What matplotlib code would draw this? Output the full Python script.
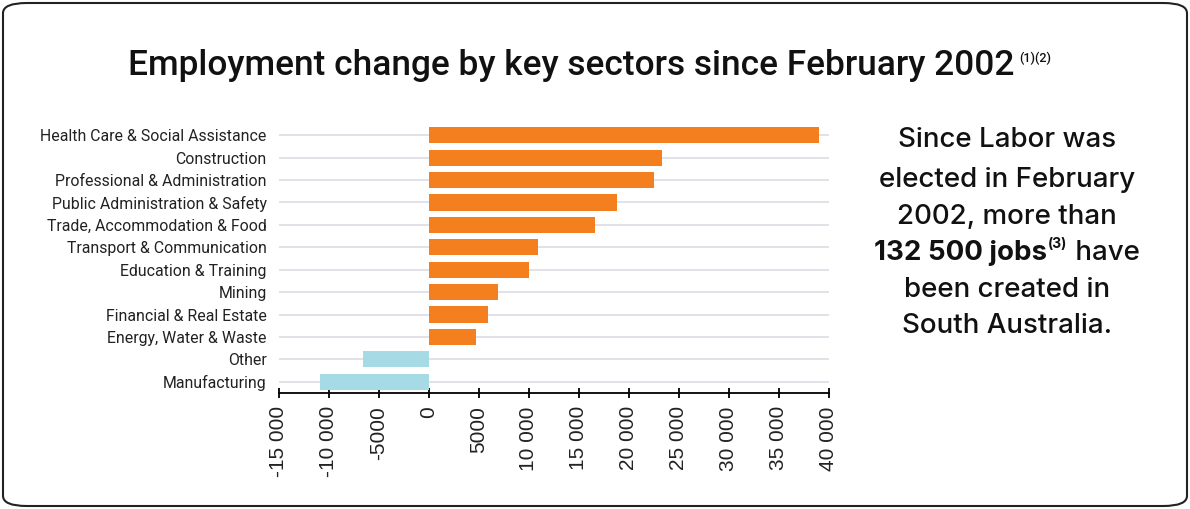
import matplotlib
matplotlib.use("Agg")
import matplotlib.pyplot as plt
from matplotlib.patches import FancyBboxPatch

# sectors, top to bottom
sectors = [
    "Health Care & Social Assistance",
    "Construction",
    "Professional & Administration",
    "Public Administration & Safety",
    "Trade, Accommodation & Food",
    "Transport & Communication",
    "Education & Training",
    "Mining",
    "Financial & Real Estate",
    "Energy, Water & Waste",
    "Other",
    "Manufacturing",
]
change = [39000, 23300, 22500, 18800, 16600, 10900, 10000, 6900, 5900, 4700, -6600, -10900]
xticks = [-15000, -10000, -5000, 0, 5000, 10000, 15000, 20000, 25000, 30000, 35000, 40000]
xticklabels = ["-15 000", "-10 000", "-5000", "0", "5000", "10 000", "15 000",
               "20 000", "25 000", "30 000", "35 000", "40 000"]

plt.rcParams["font.family"] = ["Liberation Sans", "DejaVu Sans"]
ink = "#111111"

W, H = 1190, 509
fig = plt.figure(figsize=(W / 100, H / 100), dpi=100)
fig.canvas.draw()
r = fig.canvas.get_renderer()

def fit_size(txt, target, base, **kw):
    # font size that makes txt about target px wide
    t = fig.text(0, 0, txt, fontsize=base, **kw)
    w = t.get_window_extent(r).width
    t.remove()
    return base * target / w

# rounded frame around everything
frame = FancyBboxPatch((3 / W, 3 / H), 1 - 6 / W, 1 - 6 / H,
                       boxstyle="round,pad=0,rounding_size=0.02",
                       transform=fig.transFigure, fill=False, ec="#222222", lw=1.5)
fig.patches.append(frame)

ax = fig.add_axes([279 / W, (H - 393) / H, 550 / W, 269 / H])
y = list(range(len(sectors)))
colors = ["#F47F1E" if v > 0 else "#A6DAE4" for v in change]
for yy in y:
    ax.axhline(yy, color="#dcdce3", lw=1.2, zorder=0)
ax.barh(y, change, height=0.72, color=colors, zorder=2)
ax.set_ylim(len(sectors) - 0.5, -0.5)
ax.set_xlim(-15000, 40000)
ax.set_yticks(y)
lab_fs = fit_size(sectors[0], 225, 12, family="Roboto")
ax.set_yticklabels(sectors, family="Roboto", fontsize=lab_fs, color="#222222")
ax.tick_params(axis="y", length=0, pad=9)
ax.set_xticks(xticks)
ax.set_xticklabels(xticklabels, rotation=90, fontsize=15, color="#222222")
ax.tick_params(axis="x", direction="inout", length=7, width=1.3, pad=6)
for s in ["top", "right", "left"]:
    ax.spines[s].set_visible(False)
ax.spines["bottom"].set_linewidth(1.3)

# title with superscript
title = "Employment change by key sectors since February 2002"
tfs = fit_size(title, 887, 20, family="Roboto", fontweight="medium")
t = fig.text(128 / W, 1 - 66 / H, title, family="Roboto", fontweight="medium",
             fontsize=tfs, va="center", ha="left", color=ink)
tw = t.get_window_extent(r).width
fig.text((128 + tw + 5) / W, 1 - 58 / H, "(1)(2)", family="Roboto", fontweight="medium",
         fontsize=9, va="center", ha="left", color=ink)

# side note
cx = 1007
nfs = fit_size("elected in February", 256, 19, family="Inter", fontweight="medium")
lines = [(140, "Since Labor was"), (180, "elected in February"), (217, "2002, more than"),
         (290, "been created in"), (326, "South Australia.")]
for yy, txt in lines:
    fig.text(cx / W, 1 - yy / H, txt, ha="center", va="center", fontsize=nfs,
             color=ink, family="Inter", fontweight="medium")

yy = 1 - 253 / H
p1 = fig.text(0, yy, "132 500 jobs", ha="left", va="center", fontsize=nfs,
              fontweight="bold", color=ink, family="Inter")
p2 = fig.text(0, 1 - 244 / H, "(3)", ha="left", va="center", fontsize=nfs * 0.5,
              fontweight="bold", color=ink, family="Inter")
p3 = fig.text(0, yy, " have", ha="left", va="center", fontsize=nfs,
              color=ink, family="Inter", fontweight="medium")
w1 = p1.get_window_extent(r).width
w2 = p2.get_window_extent(r).width
w3 = p3.get_window_extent(r).width
start = cx - (w1 + w2 + w3 + 2) / 2
p1.set_x(start / W)
p2.set_x((start + w1 + 1) / W)
p3.set_x((start + w1 + w2 + 2) / W)

fig.savefig("out.png", dpi=100)
